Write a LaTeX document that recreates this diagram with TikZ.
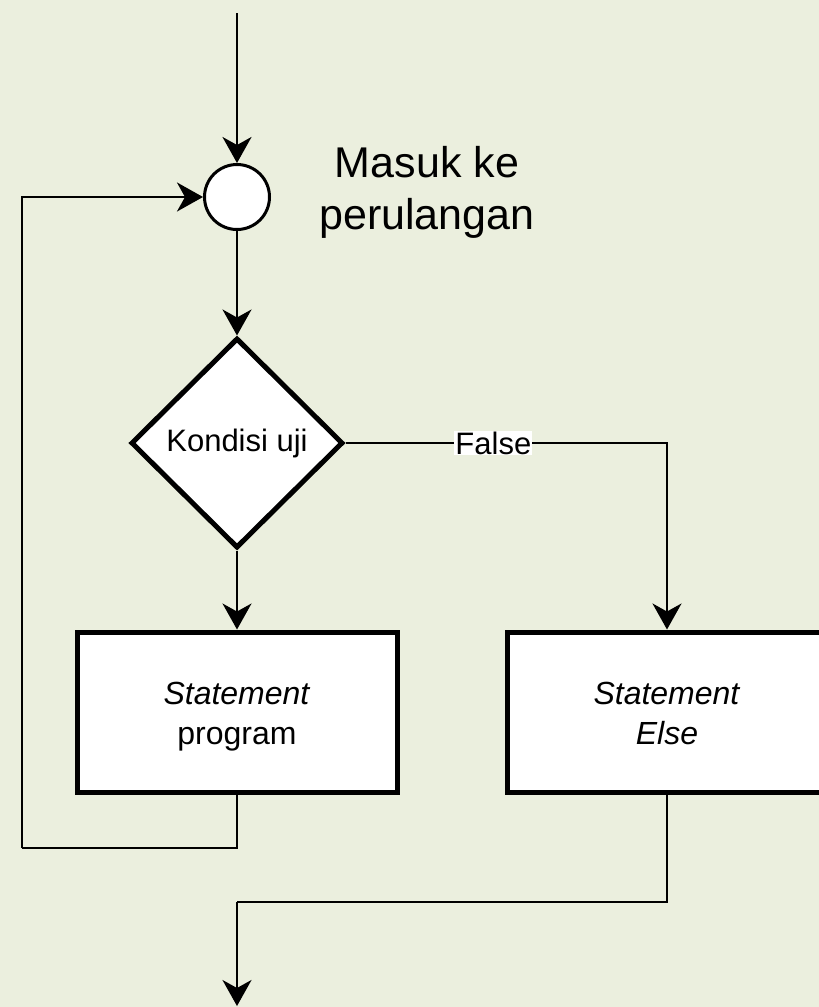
\documentclass[tikz,border=0pt]{standalone}
\usepackage{fontspec}
\setmainfont{Liberation Sans}
\usetikzlibrary{arrows.meta,shapes.geometric}
\definecolor{bgcol}{RGB}{235,239,222}
\tikzset{
  conn/.style={line width=2.2pt, draw=black,
    -{Stealth[length=26pt,width=29pt,inset=8pt]}},
  plain/.style={line width=2.2pt, draw=black},
  boxnode/.style={draw=black, fill=white, line width=5pt, rectangle,
    minimum width=320pt, minimum height=160pt},
  boxtext/.style={align=center, anchor=base,
    font=\fontsize{32}{40}\selectfont},
  decnode/.style={draw=black, fill=white, line width=5pt, diamond,
    minimum width=212pt, minimum height=210pt, inner sep=0pt,
    font=\fontsize{31}{38}\selectfont},
  joinnode/.style={draw=black, fill=white, line width=3pt, circle,
    minimum size=65pt, inner sep=0pt},
  lbl/.style={fill=white, inner sep=1pt, font=\fontsize{31}{36}\selectfont},
}
\begin{document}
\begin{tikzpicture}[x=1pt,y=-1pt]
  % canvas
  \fill[bgcol] (0,0) rectangle (819,1007);
  \useasboundingbox (0,0) rectangle (819,1007);
  \clip (0,0) rectangle (819,1007);

  % nodes
  \node[joinnode] (join) at (237,197) {};
  \node[align=center, font=\fontsize{43}{52}\selectfont] (note) at (427,192) {Masuk ke\\perulangan};
  \node[decnode] (test) at (237,443) {Kondisi uji};
  \node[boxnode] (body) at (237,712) {};
  \node[boxnode] (other) at (667,712) {};
  % box labels, placed on the baseline of their last line
  \node[boxtext] (bodytext) at (237,744) {\textit{Statement}\\program};
  \node[boxtext] (othertext) at (667,744) {\textit{Statement}\\\textit{Else}};

  \coordinate (entry) at (237,13);
  \coordinate (back) at (22,848);
  \coordinate (merge) at (237,902);
  \coordinate (exit) at (237,1006);

  % connectors
  \draw[conn] (entry) -- (join.north);
  \draw[conn] (join.south) -- (test.north);
  \draw[conn] (test.south) -- (body.north);
  \draw[conn] (test.east) -| node[lbl, pos=0.23] {False} (other.north);
  \draw[plain] (body.south) |- (back);
  \draw[conn] (back) |- (join.west);
  \draw[plain] (other.south) |- (merge);
  \draw[conn] (merge) -- (exit);
\end{tikzpicture}
\end{document}
